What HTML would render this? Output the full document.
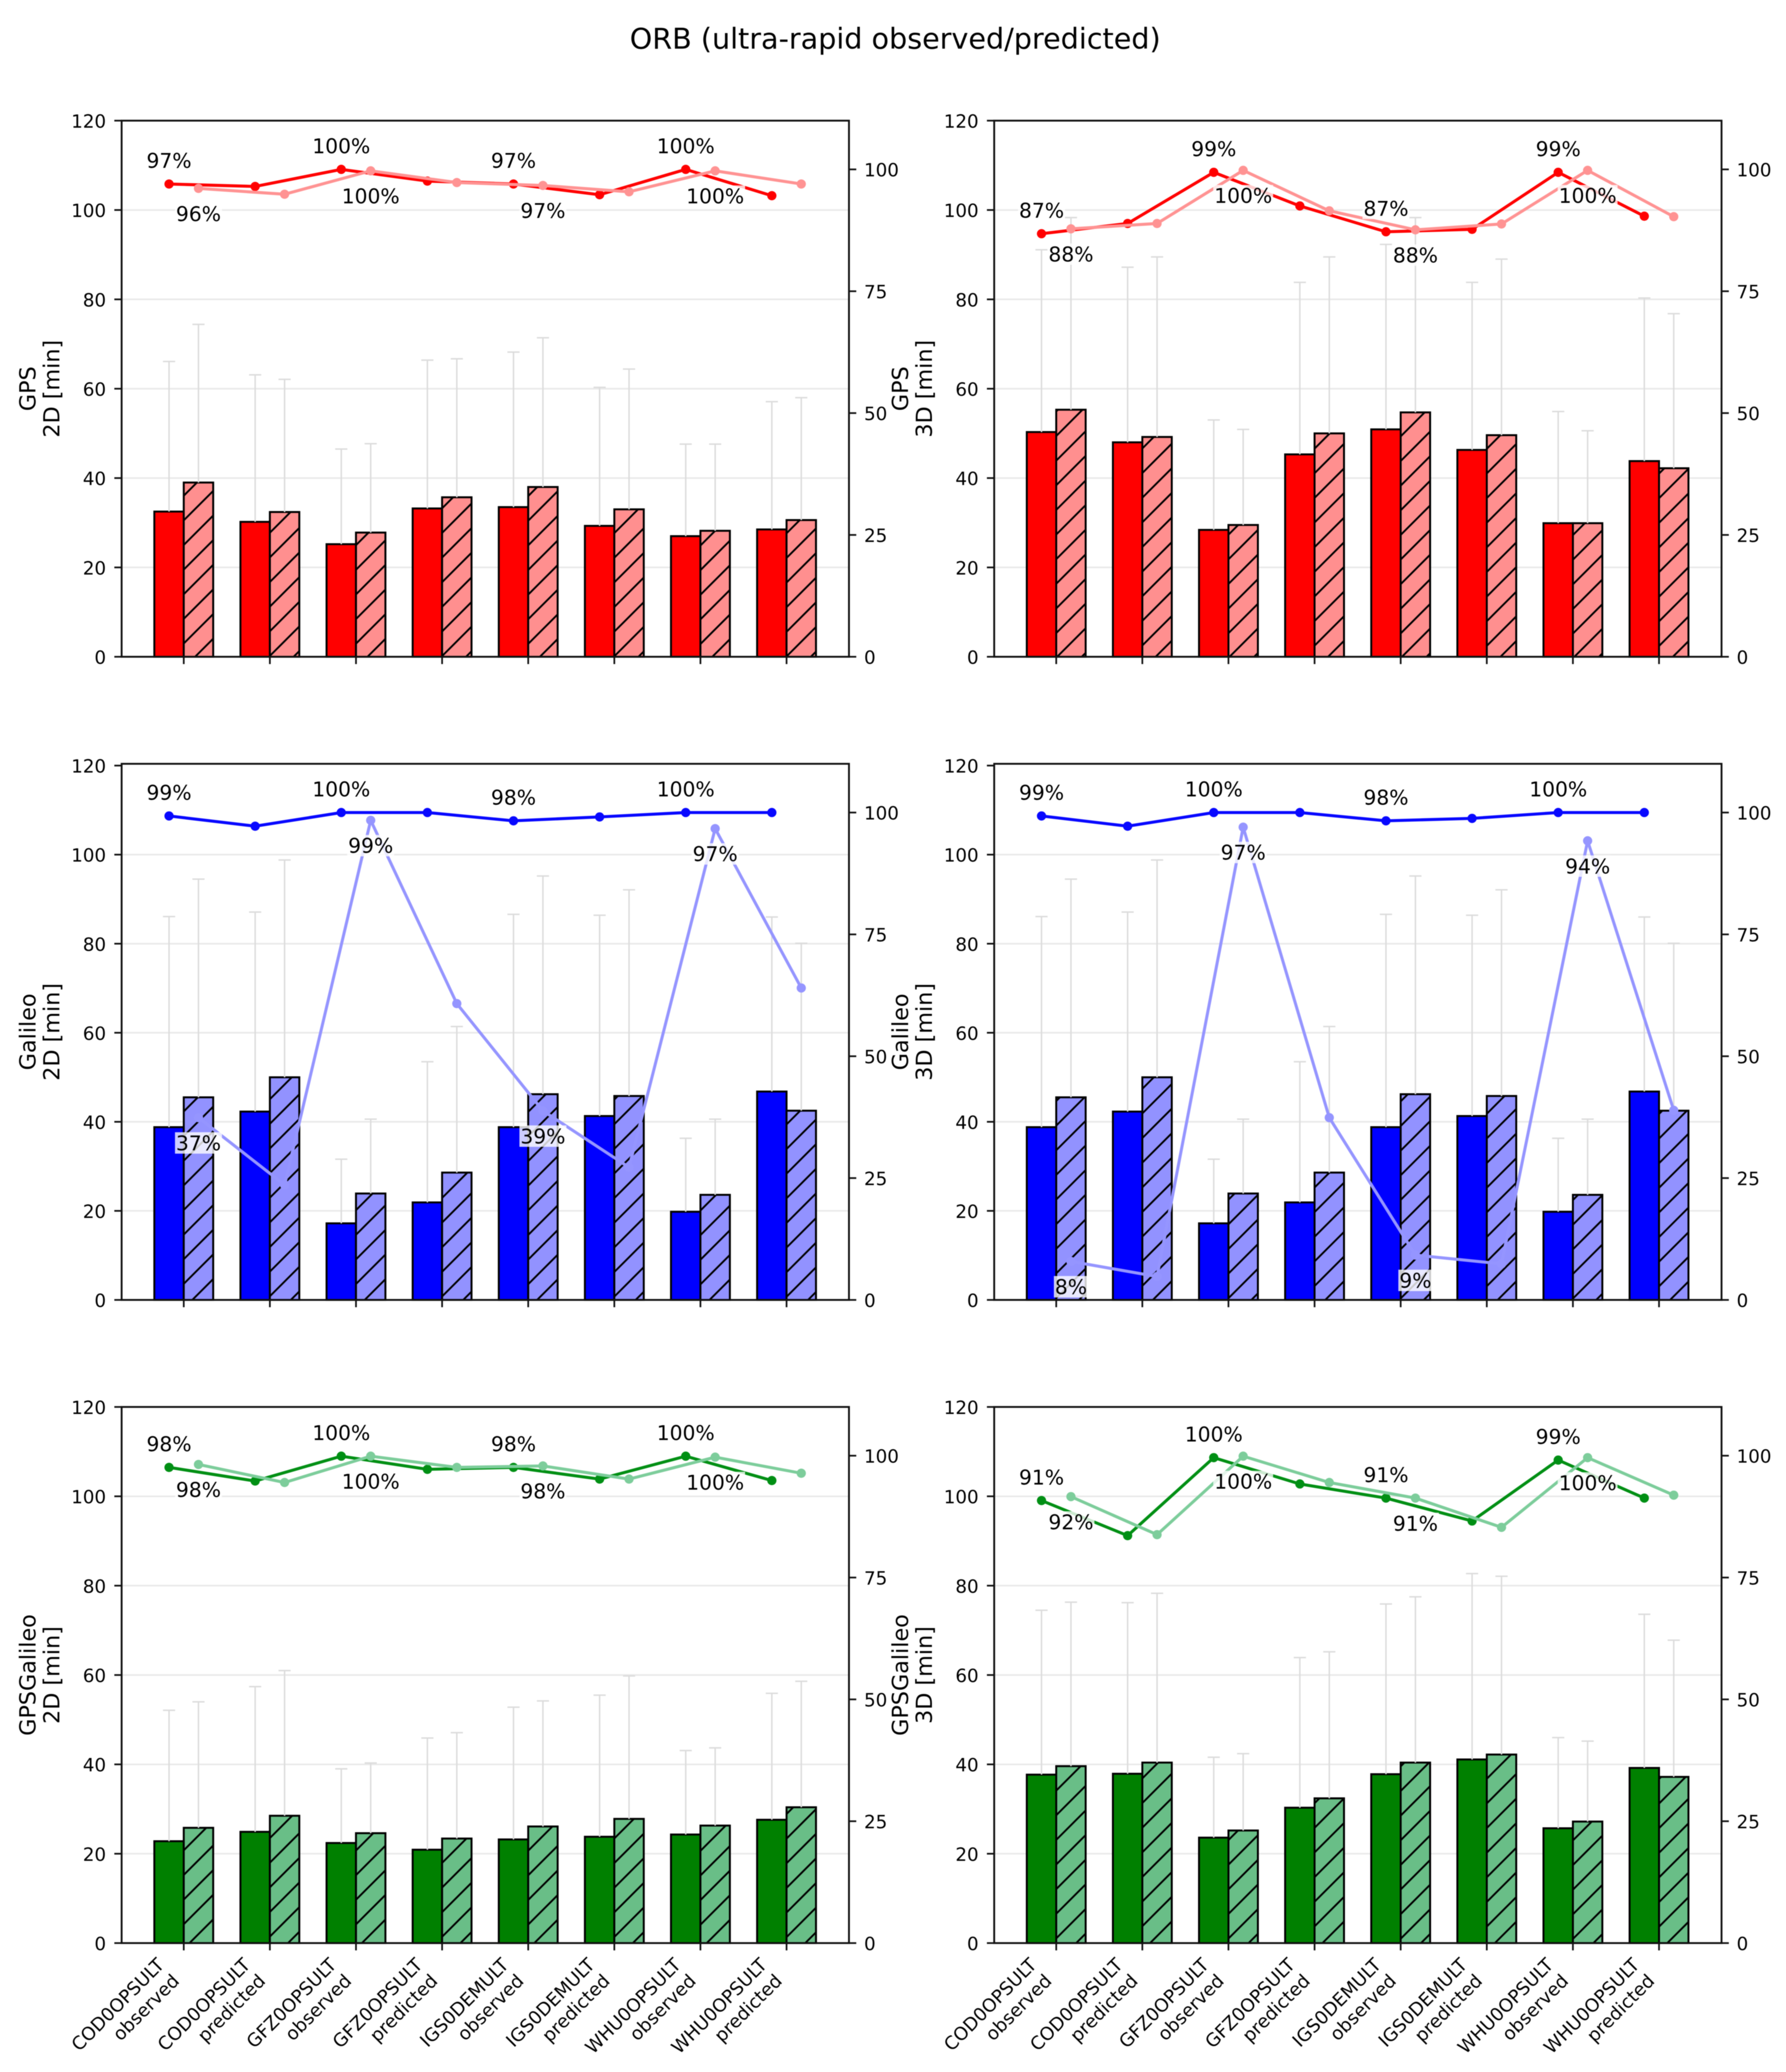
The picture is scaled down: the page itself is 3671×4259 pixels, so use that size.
<!DOCTYPE html>
<html lang="en">
<head>
<meta charset="utf-8">
<title>ORB (ultra-rapid observed/predicted)</title>
<style>
html,body{margin:0;padding:0;background:#fff;}
body{width:3671px;height:4259px;overflow:hidden;}
svg{display:block;filter:blur(0.9px);}
text{font-family:"DejaVu Sans","Liberation Sans",sans-serif;fill:#000;}
</style>
</head>
<body>
<svg id="figure" xmlns="http://www.w3.org/2000/svg" width="3671" height="4259" viewBox="0 0 3671 4259">
  <rect x="0" y="0" width="3671" height="4259" fill="#ffffff"/>
  <text x="1840" y="100" font-size="58.8" text-anchor="middle">ORB (ultra-rapid observed/predicted)</text>
</svg>
<script>
// ---- shared categories and tick labels ----
const categoryNames = ['COD0OPSULT','COD0OPSULT','GFZ0OPSULT','GFZ0OPSULT','IGS0DEMULT','IGS0DEMULT','WHU0OPSULT','WHU0OPSULT'];
const categoryKinds = ['observed','predicted','observed','predicted','observed','predicted','observed','predicted'];
const leftTicks = [0,20,40,60,80,100,120];
const rightTicks = [0,25,50,75,100];
const labelledIndices = [0,2,4,6];

// ---- GPS 2D ----
const gps2dObserved = [32.5,30.2,25.2,33.2,33.5,29.3,27.0,28.5];
const gps2dPredicted = [39.0,32.4,27.8,35.7,38.0,33.0,28.2,30.6];
const gps2dObservedTop = [66.1,63.1,46.5,66.4,68.2,60.3,47.6,57.1];
const gps2dPredictedTop = [74.4,62.1,47.7,66.7,71.4,64.4,47.6,58.0];
const gps2dObservedPct = [97,96.5,100,97.6,97,94.8,100,94.6];
const gps2dPredictedPct = [96.1,94.9,99.7,97.3,96.7,95.4,99.7,97];
const gps2dObservedLabels = ['97%','100%','97%','100%'];
const gps2dPredictedLabels = ['96%','100%','97%','100%'];

// ---- GPS 3D ----
const gps3dObserved = [50.3,48.0,28.4,45.3,50.9,46.3,29.9,43.8];
const gps3dPredicted = [55.3,49.2,29.5,50.0,54.7,49.6,29.9,42.2];
const gps3dObservedTop = [91.1,87.2,53.0,83.8,92.3,83.8,54.9,80.3];
const gps3dPredictedTop = [98.3,89.5,50.9,89.5,98.3,89.0,50.6,76.8];
const gps3dObservedPct = [86.8,88.9,99.4,92.5,87.2,87.7,99.4,90.4];
const gps3dPredictedPct = [87.8,88.9,99.8,91.5,87.6,88.8,99.8,90.3];
const gps3dObservedLabels = ['87%','99%','87%','99%'];
const gps3dPredictedLabels = ['88%','100%','88%','100%'];

// ---- Galileo 2D ----
const galileo2dObserved = [38.8,42.3,17.2,21.9,38.8,41.3,19.8,46.8];
const galileo2dPredicted = [45.5,50.0,23.9,28.6,46.2,45.8,23.6,42.5];
const galileo2dObservedTop = [86.1,87.1,31.6,53.5,86.6,86.4,36.3,86.0];
const galileo2dPredictedTop = [94.5,98.8,40.6,61.4,95.2,92.1,40.6,80.1];
const galileo2dObservedPct = [99.3,97.2,100,100,98.3,99.1,100,100];
const galileo2dPredictedPct = [37.4,23.6,98.4,60.8,38.8,27.2,96.7,64];
const galileo2dObservedLabels = ['99%','100%','98%','100%'];
const galileo2dPredictedLabels = ['37%','99%','39%','97%'];

// ---- Galileo 3D ----
const galileo3dObserved = [38.8,42.3,17.2,21.9,38.8,41.3,19.8,46.8];
const galileo3dPredicted = [45.5,50.0,23.9,28.6,46.2,45.8,23.6,42.5];
const galileo3dObservedTop = [86.1,87.1,31.6,53.5,86.6,86.4,36.3,86.0];
const galileo3dPredictedTop = [94.5,98.8,40.6,61.4,95.2,92.1,40.6,80.1];
const galileo3dObservedPct = [99.3,97.2,100,100,98.3,98.8,100,100];
const galileo3dPredictedPct = [7.9,4.8,97,37.4,9.2,7.4,94.2,38.9];
const galileo3dObservedLabels = ['99%','100%','98%','100%'];
const galileo3dPredictedLabels = ['8%','97%','9%','94%'];

// ---- GPSGalileo 2D ----
const combined2dObserved = [22.8,24.9,22.4,20.9,23.2,23.8,24.3,27.6];
const combined2dPredicted = [25.8,28.5,24.6,23.4,26.1,27.8,26.3,30.4];
const combined2dObservedTop = [52.1,57.4,39.0,45.9,52.8,55.5,43.1,55.9];
const combined2dPredictedTop = [54.0,61.0,40.3,47.1,54.2,59.8,43.7,58.6];
const combined2dObservedPct = [97.6,94.8,99.9,97.2,97.6,95.2,99.9,94.9];
const combined2dPredictedPct = [98.2,94.5,99.9,97.6,97.9,95.2,99.7,96.4];
const combined2dObservedLabels = ['98%','100%','98%','100%'];
const combined2dPredictedLabels = ['98%','100%','98%','100%'];

// ---- GPSGalileo 3D ----
const combined3dObserved = [37.7,37.9,23.6,30.3,37.8,41.1,25.7,39.2];
const combined3dPredicted = [39.6,40.4,25.2,32.4,40.4,42.2,27.2,37.2];
const combined3dObservedTop = [74.5,76.2,41.6,63.9,75.9,82.7,46.0,73.6];
const combined3dPredictedTop = [76.3,78.3,42.4,65.2,77.5,82.1,45.2,67.8];
const combined3dObservedPct = [90.8,83.6,99.6,94.2,91.3,86.6,99.1,91.3];
const combined3dPredictedPct = [91.6,83.8,99.9,94.5,91.3,85.3,99.6,91.9];
const combined3dObservedLabels = ['91%','100%','91%','99%'];
const combined3dPredictedLabels = ['92%','100%','91%','100%'];

const svgNS = 'http://www.w3.org/2000/svg';
const figure = document.getElementById('figure');

function make(tag, attrs, parent, content) {
  const node = document.createElementNS(svgNS, tag);
  for (const key in attrs) { node.setAttribute(key, attrs[key]); }
  if (content !== undefined) { node.textContent = content; }
  (parent || figure).appendChild(node);
  return node;
}

// ---- hatch patterns: one global diagonal pattern per pale colour ----
const hatchPeriod = 50.625;
const hatchPhase = 29.75;
const defs = make('defs', {});
function addHatch(id, fillColor) {
  const pattern = make('pattern', {
    id: id, patternUnits: 'userSpaceOnUse', width: hatchPeriod, height: hatchPeriod,
    patternTransform: 'translate(' + hatchPhase + ' 0)'
  }, defs);
  make('rect', {x: 0, y: 0, width: hatchPeriod, height: hatchPeriod, fill: fillColor}, pattern);
  make('line', {x1: -5, y1: 5, x2: 5, y2: -5, stroke: '#000', 'stroke-width': 3.8}, pattern);
  make('line', {x1: -5, y1: hatchPeriod + 5, x2: hatchPeriod + 5, y2: -5, stroke: '#000', 'stroke-width': 3.8}, pattern);
  make('line', {x1: hatchPeriod - 5, y1: hatchPeriod + 5, x2: hatchPeriod + 5, y2: hatchPeriod - 5, stroke: '#000', 'stroke-width': 3.8}, pattern);
}
addHatch('hatch-red', '#ff8f8f');
addHatch('hatch-blue', '#9292ff');
addHatch('hatch-green', '#69be87');

const styles = {
  red:   {bar: '#ff0000', line: '#ff0000', paleLine: '#ff9393', hatch: 'url(#hatch-red)'},
  blue:  {bar: '#0000ff', line: '#0808ff', paleLine: '#9595ff', hatch: 'url(#hatch-blue)'},
  green: {bar: '#008000', line: '#008f14', paleLine: '#7dcd9b', hatch: 'url(#hatch-green)'}
};

const PANEL_HEIGHT = 1102;
const PANEL_WIDTH = 1495;
const STEP = 177;
const BAR_WIDTH = 60.5;
const RIGHT_MAX = 110;

function drawPanel(p) {
  const group = make('g', {});
  
  

  const top = p.top;
  const bottom = top + PANEL_HEIGHT;
  const left = p.left;
  const right = left + PANEL_WIDTH;
  const xOf = i => p.x0 + STEP * i;
  const yLeft = v => bottom - v * PANEL_HEIGHT / p.leftMax;
  const yRight = v => bottom - v * PANEL_HEIGHT / RIGHT_MAX;
  const style = styles[p.color];

  // grid
  leftTicks.forEach(t => {
    if (t === 0 || t === 120) { return; }
    const gridLine = make('line', {x1: left, x2: right, y1: yLeft(t), y2: yLeft(t), stroke: '#eaeaea', 'stroke-width': 3.4}, group);
    
    
  });

  // bars
  categoryNames.forEach((cat, i) => {
    const obsBar = make('rect', {
      x: xOf(i) - BAR_WIDTH, y: yLeft(p.observed[i]), width: BAR_WIDTH,
      height: bottom - yLeft(p.observed[i]), fill: style.bar, stroke: '#000', 'stroke-width': 4
    }, group);
    
    

    const predBar = make('rect', {
      x: xOf(i), y: yLeft(p.predicted[i]), width: BAR_WIDTH,
      height: bottom - yLeft(p.predicted[i]), fill: style.hatch, stroke: '#000', 'stroke-width': 4
    }, group);
    
    
  });

  // error bars
  function drawError(i, offset, base, topValue, seriesName) {
    const cx = xOf(i) + offset;
    const stem = make('line', {x1: cx, x2: cx, y1: yLeft(base), y2: yLeft(topValue), stroke: '#dcdcdc', 'stroke-width': 3}, group);
    
    
    const cap = make('line', {x1: cx - 12.5, x2: cx + 12.5, y1: yLeft(topValue), y2: yLeft(topValue), stroke: '#dcdcdc', 'stroke-width': 3}, group);
    
    
  }
  categoryNames.forEach((cat, i) => {
    drawError(i, -BAR_WIDTH / 2, p.observed[i], p.observedTop[i], 'observed');
    drawError(i, BAR_WIDTH / 2, p.predicted[i], p.predictedTop[i], 'predicted');
  });

  // availability lines
  function drawLine(values, offset, color, seriesName) {
    const points = values.map((v, i) => (xOf(i) + offset) + ',' + yRight(v)).join(' ');
    const line = make('polyline', {points: points, fill: 'none', stroke: color, 'stroke-width': 6.2, 'stroke-linejoin': 'round'}, group);
    
    
    values.forEach((v, i) => {
      const marker = make('circle', {cx: xOf(i) + offset, cy: yRight(v), r: 9.5, fill: color}, group);
      
      
    });
  }
  drawLine(p.observedPct, -BAR_WIDTH / 2, style.line, 'observed');
  drawLine(p.predictedPct, BAR_WIDTH / 2, style.paleLine, 'predicted');

  // frame
  const frame = make('rect', {x: left, y: top, width: PANEL_WIDTH, height: PANEL_HEIGHT, fill: 'none', stroke: '#111', 'stroke-width': 3.8}, group);
  
  

  // left axis ticks
  leftTicks.forEach(t => {
    const y = yLeft(t);
    const tick = make('line', {x1: left - 15, x2: left, y1: y, y2: y, stroke: '#111', 'stroke-width': 3.5}, group);
    
    
    const tickLabel = make('text', {x: left - 32, y: y + 14.5, 'font-size': 37.5, 'text-anchor': 'end'}, group, String(t));
    
    
  });

  // right axis ticks
  rightTicks.forEach(t => {
    const y = yRight(t);
    const tick = make('line', {x1: right, x2: right + 15, y1: y, y2: y, stroke: '#111', 'stroke-width': 3.5}, group);
    
    
    const tickLabel = make('text', {x: right + 31, y: y + 14.5, 'font-size': 37.5}, group, String(t));
    
    
  });

  // x ticks and labels
  categoryNames.forEach((cat, i) => {
    const tick = make('line', {x1: xOf(i), x2: xOf(i), y1: bottom, y2: bottom + 15, stroke: '#111', 'stroke-width': 3.5}, group);
    
    
    if (p.showCategories) {
      const ax = xOf(i) - 38;
      const ay = bottom + 47;
      const nameLabel = make('text', {
        x: ax, y: ay, 'font-size': 37.5, 'text-anchor': 'end',
        transform: 'rotate(-45 ' + ax + ' ' + ay + ')'
      }, group, cat);
      
      
      const bx = xOf(i) - 7;
      const by = bottom + 80;
      const kindLabel = make('text', {
        x: bx, y: by, 'font-size': 37.5, 'text-anchor': 'end',
        transform: 'rotate(-45 ' + bx + ' ' + by + ')'
      }, group, categoryKinds[i]);
      
      
    }
  });

  // y-axis title (two rotated lines)
  const midY = top + PANEL_HEIGHT / 2;
  const titleX1 = left - 177;
  const titleX2 = left - 128;
  const sysTitle = make('text', {
    x: titleX1, y: midY, 'font-size': 45.8, 'text-anchor': 'middle',
    transform: 'rotate(-90 ' + titleX1 + ' ' + midY + ')'
  }, group, p.system);
  
  
  const unitTitle = make('text', {
    x: titleX2, y: midY, 'font-size': 45.8, 'text-anchor': 'middle',
    transform: 'rotate(-90 ' + titleX2 + ' ' + midY + ')'
  }, group, p.unit);
  
  

  // percentage annotations with translucent white box
  function drawAnnotation(index, value, offsetX, offsetY, text, seriesName) {
    const cx = xOf(index) + offsetX;
    const cy = yRight(value) + offsetY;
    const box = make('rect', {x: cx, y: cy - 22, width: 0, height: 44, fill: '#ffffff', 'fill-opacity': 0.8}, group);
    
    
    const label = make('text', {x: cx, y: cy + 15, 'font-size': 41.67, 'text-anchor': 'middle'}, group, text);
    
    
    const w = label.getComputedTextLength() + 4;
    box.setAttribute('x', cx - w / 2);
    box.setAttribute('width', w);
  }
  labelledIndices.forEach((idx, k) => {
    drawAnnotation(idx, p.observedPct[idx], -BAR_WIDTH / 2, -48, p.observedLabels[k], 'observed');
    drawAnnotation(idx, p.predictedPct[idx], BAR_WIDTH / 2, 52, p.predictedLabels[k], 'predicted');
  });
}

const COL_A = {left: 250, x0: 377.7};
const COL_B = {left: 2043.5, x0: 2171};

drawPanel({name: 'panel-gps-2d', color: 'red', system: 'GPS', unit: '2D [min]', top: 248, leftMax: 120, left: COL_A.left, x0: COL_A.x0,
  observed: gps2dObserved, predicted: gps2dPredicted, observedTop: gps2dObservedTop, predictedTop: gps2dPredictedTop,
  observedPct: gps2dObservedPct, predictedPct: gps2dPredictedPct, observedLabels: gps2dObservedLabels, predictedLabels: gps2dPredictedLabels});
drawPanel({name: 'panel-gps-3d', color: 'red', system: 'GPS', unit: '3D [min]', top: 248, leftMax: 120, left: COL_B.left, x0: COL_B.x0,
  observed: gps3dObserved, predicted: gps3dPredicted, observedTop: gps3dObservedTop, predictedTop: gps3dPredictedTop,
  observedPct: gps3dObservedPct, predictedPct: gps3dPredictedPct, observedLabels: gps3dObservedLabels, predictedLabels: gps3dPredictedLabels});
drawPanel({name: 'panel-galileo-2d', color: 'blue', system: 'Galileo', unit: '2D [min]', top: 1570, leftMax: 120.4, left: COL_A.left, x0: COL_A.x0,
  observed: galileo2dObserved, predicted: galileo2dPredicted, observedTop: galileo2dObservedTop, predictedTop: galileo2dPredictedTop,
  observedPct: galileo2dObservedPct, predictedPct: galileo2dPredictedPct, observedLabels: galileo2dObservedLabels, predictedLabels: galileo2dPredictedLabels});
drawPanel({name: 'panel-galileo-3d', color: 'blue', system: 'Galileo', unit: '3D [min]', top: 1570, leftMax: 120.4, left: COL_B.left, x0: COL_B.x0,
  observed: galileo3dObserved, predicted: galileo3dPredicted, observedTop: galileo3dObservedTop, predictedTop: galileo3dPredictedTop,
  observedPct: galileo3dObservedPct, predictedPct: galileo3dPredictedPct, observedLabels: galileo3dObservedLabels, predictedLabels: galileo3dPredictedLabels});
drawPanel({name: 'panel-gpsgalileo-2d', color: 'green', system: 'GPSGalileo', unit: '2D [min]', top: 2892, leftMax: 120, left: COL_A.left, x0: COL_A.x0, showCategories: true,
  observed: combined2dObserved, predicted: combined2dPredicted, observedTop: combined2dObservedTop, predictedTop: combined2dPredictedTop,
  observedPct: combined2dObservedPct, predictedPct: combined2dPredictedPct, observedLabels: combined2dObservedLabels, predictedLabels: combined2dPredictedLabels});
drawPanel({name: 'panel-gpsgalileo-3d', color: 'green', system: 'GPSGalileo', unit: '3D [min]', top: 2892, leftMax: 120, left: COL_B.left, x0: COL_B.x0, showCategories: true,
  observed: combined3dObserved, predicted: combined3dPredicted, observedTop: combined3dObservedTop, predictedTop: combined3dPredictedTop,
  observedPct: combined3dObservedPct, predictedPct: combined3dPredictedPct, observedLabels: combined3dObservedLabels, predictedLabels: combined3dPredictedLabels});
</script>
</body>
</html>
